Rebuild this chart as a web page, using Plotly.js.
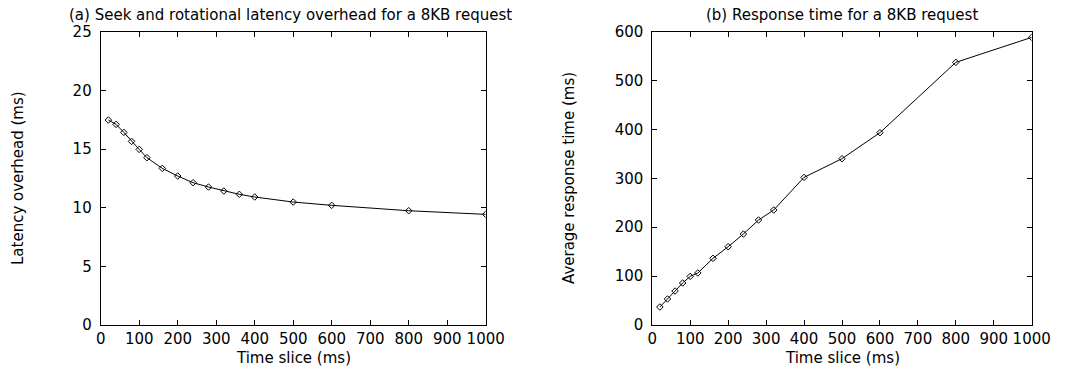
<!DOCTYPE html>
<html>
<head>
<meta charset="utf-8">
<script src="https://cdn.plot.ly/plotly-3.0.1.min.js"></script>
<style>html,body{margin:0;padding:0;background:#fff;}#chart{width:1066px;height:373px;}</style>
</head>
<body>
<div id="chart"></div>
<script>
const timeSlice = [20,40,60,80,100,120,160,200,240,280,320,360,400,500,600,800,1000];
const latencyOverhead = [17.47,17.1,16.42,15.65,14.97,14.26,13.35,12.7,12.13,11.76,11.42,11.14,10.91,10.48,10.2,9.74,9.43];
const responseX = [20,40,60,80,100,120,160,200,240,280,320,400,500,600,800,1000];
const responseTime = [36.8,53.2,69.5,85.9,99.5,106.4,136.4,160.2,186.1,214.8,235.2,302,340.2,393.4,537.3,588.4];
const titleA = "(a) Seek and rotational latency overhead for a 8KB request";
const titleB = "(b) Response time for a 8KB request";
const xTitle = "Time slice (ms)";
const yTitleA = "Latency overhead (ms)";
const yTitleB = "Average response time (ms)";

const font = {family: "DejaVu Sans, Liberation Sans, sans-serif", size: 15, color: "#000"};
const line = {color: "#000", width: 1};
const marker = {symbol: "diamond-open", size: 5, color: "#000", line: {width: 1, color: "#000"}};

const traces = [
  {x: timeSlice, y: latencyOverhead, xaxis: "x", yaxis: "y", mode: "lines+markers", line: line, marker: marker},
  {x: responseX, y: responseTime, xaxis: "x2", yaxis: "y2", mode: "lines+markers", line: line, marker: marker}
];

const axBase = {
  showline: true, linecolor: "#000", linewidth: 1, mirror: "ticks",
  ticks: "inside", ticklen: 5, tickwidth: 1, tickcolor: "#000",
  showgrid: false, zeroline: false, tickfont: font, automargin: false
};
const yDom = [48/373, (373-31.7)/373];
const layout = {
  width: 1066, height: 373,
  margin: {l: 0, r: 0, t: 0, b: 0},
  paper_bgcolor: "#fff", plot_bgcolor: "#fff",
  showlegend: false,
  font: font,
  xaxis: Object.assign({}, axBase, {domain: [100.7/1066, 485.7/1066], range: [0, 1000], dtick: 100, anchor: "y"}),
  yaxis: Object.assign({}, axBase, {domain: yDom, range: [0, 25], dtick: 5, anchor: "x", ticklabelstandoff: 5}),
  xaxis2: Object.assign({}, axBase, {domain: [652.3/1066, 1031.7/1066], range: [0, 1000], dtick: 100, anchor: "y2"}),
  yaxis2: Object.assign({}, axBase, {domain: yDom, range: [0, 600], dtick: 100, anchor: "x2", ticklabelstandoff: 5}),
  annotations: [
    {text: titleA, xref: "paper", yref: "paper", x: 290/1066, y: (373-15)/373, xanchor: "center", yanchor: "middle", showarrow: false, font: font},
    {text: titleB, xref: "paper", yref: "paper", x: 842/1066, y: (373-15)/373, xanchor: "center", yanchor: "middle", showarrow: false, font: font},
    {text: xTitle, xref: "paper", yref: "paper", x: 293/1066, y: (373-358)/373, xanchor: "center", yanchor: "middle", showarrow: false, font: font},
    {text: xTitle, xref: "paper", yref: "paper", x: 842/1066, y: (373-358)/373, xanchor: "center", yanchor: "middle", showarrow: false, font: font},
    {text: yTitleA, xref: "paper", yref: "paper", x: 18/1066, y: (373-178)/373, xanchor: "center", yanchor: "middle", showarrow: false, textangle: -90, font: font},
    {text: yTitleB, xref: "paper", yref: "paper", x: 569/1066, y: (373-178)/373, xanchor: "center", yanchor: "middle", showarrow: false, textangle: -90, font: font}
  ]
};
Plotly.newPlot("chart", traces, layout, {staticPlot: true, displayModeBar: false});
</script>
</body>
</html>
